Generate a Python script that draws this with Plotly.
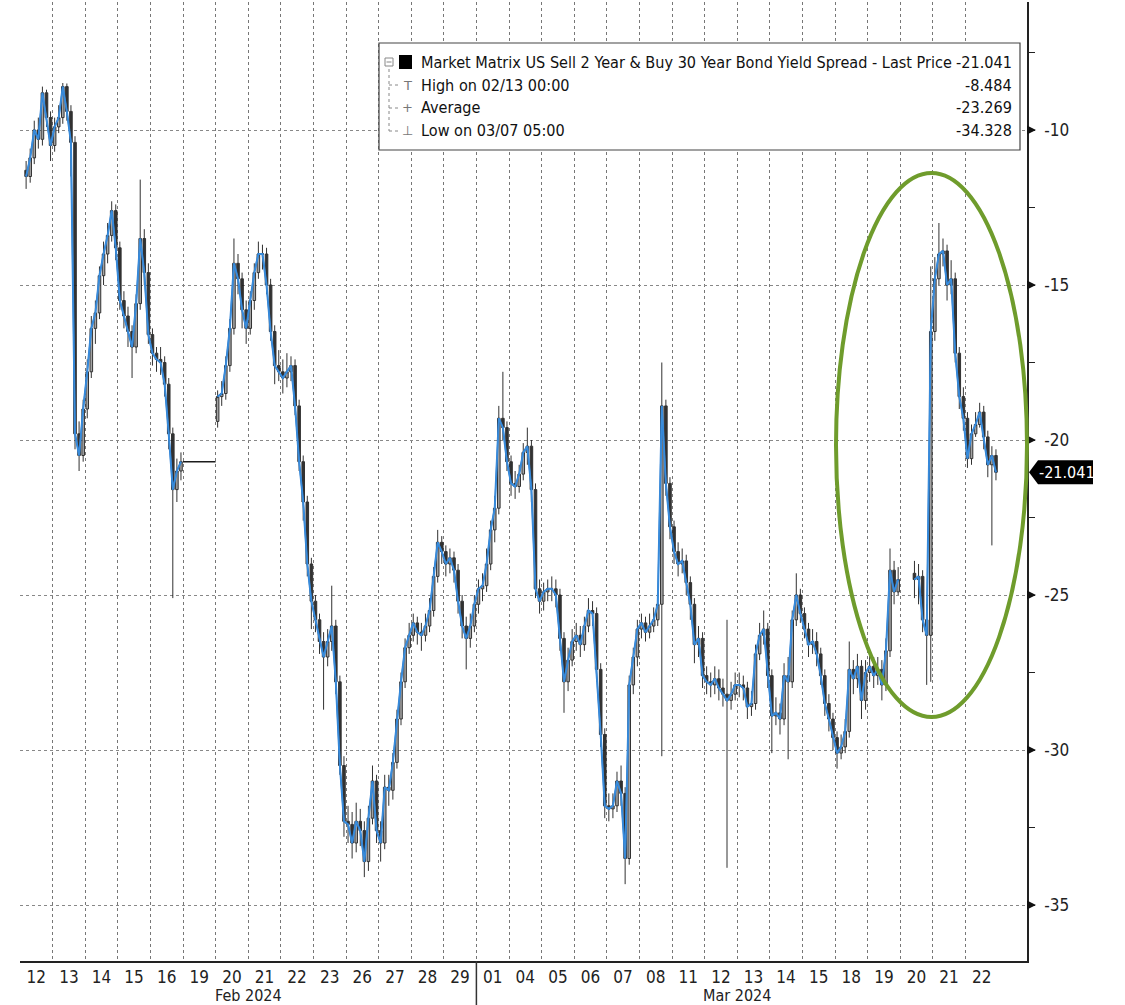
import plotly.graph_objects as go

# ---------------- data ----------------
day_labels = ["12", "13", "14", "15", "16", "19", "20", "21", "22", "23", "26", "27", "28", "29",
              "01", "04", "05", "06", "07", "08", "11", "12", "13", "14", "15", "18", "19", "20", "21", "22"]
month_labels = ["Feb 2024", "Mar 2024"]
month_first_day = [0, 14]          # index of first trading day of each month

BARS_PER_DAY = 8

# intraday closes, 8 bars per trading day (None = no trading)
closes = [
    [None, -11.5, -10.9, -10.0, -10.3, -8.8, -9.6, -10.5],       # Feb 12
    [-9.9, -9.6, -8.6, -9.4, -10.4, -19.8, -20.5, -19.0],         # Feb 13
    [-17.8, -16.4, -15.9, -14.7, -14.0, -13.4, -12.6, -13.8],     # Feb 14
    [-15.5, -16.0, -16.5, -17.0, -15.6, -13.5, -14.6, -16.6],     # Feb 15
    [-17.2, -17.4, -17.5, -18.2, -19.8, -21.6, -21.0, -20.7],     # Feb 16
    [None] * 8,                                                   # Feb 19 (holiday)
    [-18.6, -18.5, -17.6, -16.4, -14.3, -14.8, -15.8, -16.4],     # Feb 20
    [-15.5, -14.6, -14.0, -14.0, -15.0, -16.5, -17.6, -17.8],     # Feb 21
    [-18.0, -17.8, -17.6, -18.9, -20.7, -22.0, -24.0, -25.2],     # Feb 22
    [-25.8, -26.5, -27.0, -26.5, -26.0, -27.8, -30.5, -32.3],     # Feb 23
    [-32.4, -33.0, -32.3, -32.6, -33.6, -32.2, -31.0, -32.6],     # Feb 26
    [-33.0, -31.2, -31.3, -30.4, -29.0, -27.8, -26.7, -26.3],     # Feb 27
    [-25.9, -26.2, -26.3, -26.0, -25.5, -24.4, -23.3, -23.6],     # Feb 28
    [-24.0, -23.8, -24.2, -25.2, -26.0, -26.4, -26.0, -25.3],     # Feb 29
    [-24.8, -24.7, -24.0, -22.9, -22.2, -19.3, -19.6, -20.7],     # Mar 01
    [-21.4, -21.5, -21.1, -20.4, -20.2, -21.6, -24.8, -25.2],     # Mar 04
    [-24.9, -24.8, -24.8, -25.0, -26.4, -27.8, -27.1, -26.5],     # Mar 05
    [-26.3, -26.6, -26.0, -25.5, -25.6, -27.4, -29.5, -31.8],     # Mar 06
    [-31.9, -31.8, -31.0, -31.4, -33.5, -27.9, -27.0, -26.1],     # Mar 07
    [-25.9, -26.2, -26.0, -25.8, -25.3, -18.9, -21.4, -22.8],     # Mar 08
    [-23.6, -24.0, -23.9, -24.6, -25.3, -26.6, -26.4, -27.6],     # Mar 11
    [-27.8, -27.9, -27.7, -28.0, -28.2, -28.4, -28.2, -27.9],     # Mar 12
    [-27.9, -28.0, -28.6, -28.5, -26.9, -26.3, -26.1, -27.6],     # Mar 13
    [-28.9, -28.8, -29.0, -27.6, -27.8, -25.8, -25.0, -25.6],     # Mar 14
    [-26.1, -26.6, -26.5, -26.9, -27.6, -28.5, -29.0, -29.6],     # Mar 15
    [-30.1, -29.9, -29.4, -27.4, -27.7, -27.3, -28.4, -27.5],     # Mar 18
    [-27.3, -27.6, -27.4, -27.9, -26.8, -24.2, -24.9, -24.5],     # Mar 19
    [None, None, None, -24.5, -24.4, -25.8, -26.3, -16.5],        # Mar 20
    [-14.8, -14.0, -13.9, -15.0, -14.8, -17.2, -18.6, -19.3],     # Mar 21
    [-20.6, -19.8, -19.5, -19.1, -19.9, -20.8, -20.5, -21.041],   # Mar 22
]

highs = [
    [None, -11.0, -10.6, -9.7, -9.6, -8.6, -8.7, -9.4],
    [-9.6, -9.2, -8.484, -8.5, -9.2, -10.2, -19.4, -18.7],
    [-17.4, -16.0, -15.5, -14.4, -13.6, -13.0, -12.3, -12.4],
    [-13.6, -15.2, -15.7, -16.3, -15.3, -11.6, -13.2, -14.3],
    [-16.4, -17.0, -17.0, -17.3, -18.0, -19.6, -20.6, -20.4],
    [None] * 8,
    [-18.4, -18.1, -17.3, -16.1, -13.5, -14.0, -14.6, -15.5],
    [-15.2, -14.3, -13.6, -13.7, -13.8, -14.8, -16.3, -17.1],
    [-17.4, -17.2, -17.3, -17.4, -18.7, -20.5, -21.8, -23.8],
    [-25.0, -25.6, -26.2, -26.1, -24.7, -25.8, -27.6, -30.2],
    [-31.8, -32.0, -31.7, -31.9, -32.3, -31.8, -30.5, -30.8],
    [-32.3, -30.8, -30.8, -30.1, -28.7, -27.5, -26.4, -25.9],
    [-25.6, -25.7, -25.9, -25.6, -25.1, -24.1, -22.9, -23.1],
    [-23.4, -23.5, -23.6, -24.0, -25.0, -25.7, -25.6, -25.0],
    [-24.5, -24.3, -23.5, -22.6, -21.8, -18.9, -17.8, -19.4],
    [-20.5, -21.0, -20.8, -20.1, -19.6, -20.0, -21.4, -24.5],
    [-24.6, -24.5, -24.4, -24.5, -24.8, -26.2, -26.7, -26.1],
    [-25.9, -26.0, -25.7, -25.1, -25.2, -25.4, -27.2, -29.3],
    [-31.4, -31.4, -30.7, -30.5, -31.2, -27.6, -26.7, -25.8],
    [-25.6, -25.7, -25.6, -25.4, -24.9, -17.5, -18.7, -21.2],
    [-22.6, -23.3, -23.5, -23.7, -24.4, -25.1, -26.0, -26.2],
    [-27.3, -27.5, -27.3, -27.4, -27.7, -25.8, -27.8, -27.5],
    [-27.5, -27.6, -27.8, -28.1, -26.6, -25.9, -25.5, -25.9],
    [-27.4, -28.3, -28.5, -27.2, -27.0, -25.5, -24.3, -24.8],
    [-25.4, -25.9, -26.1, -26.2, -26.7, -27.4, -28.2, -28.8],
    [-29.4, -29.5, -29.0, -26.5, -27.1, -26.9, -27.1, -27.1],
    [-26.9, -27.0, -27.0, -27.1, -26.4, -23.5, -23.9, -24.1],
    [None, None, None, -23.9, -24.0, -24.2, -25.3, -14.4],
    [-14.1, -13.0, -13.5, -13.7, -14.2, -14.6, -17.0, -18.3],
    [-19.1, -19.5, -19.1, -18.8, -18.9, -19.7, -20.2, -20.3],
]

lows = [
    [None, -11.9, -11.7, -11.1, -10.6, -10.5, -9.9, -11.0],
    [-10.7, -10.1, -9.8, -9.7, -11.5, -20.3, -21.0, -20.7],
    [-19.3, -18.0, -16.9, -16.1, -15.0, -14.3, -13.6, -14.2],
    [-15.8, -16.4, -17.0, -18.0, -17.2, -15.8, -15.0, -16.9],
    [-17.6, -17.8, -17.9, -18.6, -20.3, -25.1, -22.0, -21.3],
    [None] * 8,
    [-19.6, -18.9, -18.7, -17.8, -16.6, -15.3, -16.4, -16.9],
    [-16.6, -15.8, -14.8, -14.5, -15.3, -16.8, -18.2, -18.1],
    [-18.5, -18.3, -18.1, -19.2, -21.0, -22.6, -24.4, -26.1],
    [-26.2, -26.9, -28.7, -27.3, -26.8, -28.2, -30.8, -32.8],
    [-33.0, -33.5, -33.3, -33.1, -34.1, -33.9, -32.4, -33.0],
    [-33.6, -33.2, -31.8, -31.6, -30.6, -29.2, -28.0, -26.9],
    [-26.5, -26.6, -26.8, -26.5, -26.2, -25.7, -24.6, -24.0],
    [-24.4, -24.3, -24.6, -25.6, -26.4, -27.4, -26.7, -26.2],
    [-25.6, -25.2, -24.9, -24.2, -23.3, -22.4, -20.0, -21.0],
    [-21.8, -21.9, -21.7, -21.3, -20.8, -22.0, -25.1, -25.6],
    [-25.5, -25.2, -25.2, -25.4, -26.8, -28.8, -28.1, -27.3],
    [-26.8, -27.0, -26.8, -26.2, -26.0, -27.8, -29.9, -32.2],
    [-32.3, -32.2, -32.0, -31.8, -34.328, -33.7, -28.2, -27.3],
    [-26.4, -26.5, -26.4, -26.2, -26.0, -30.2, -21.8, -23.2],
    [-24.0, -24.4, -24.3, -25.0, -25.8, -27.2, -27.0, -28.0],
    [-28.2, -28.3, -28.2, -28.4, -28.6, -33.8, -28.7, -28.4],
    [-28.3, -28.4, -29.0, -28.9, -28.7, -27.1, -26.6, -28.0],
    [-30.1, -29.2, -29.5, -29.2, -30.3, -28.0, -26.0, -25.9],
    [-26.4, -27.0, -26.9, -27.3, -27.9, -28.9, -29.4, -30.0],
    [-30.6, -30.3, -30.1, -29.6, -28.2, -28.0, -29.0, -28.7],
    [-27.8, -28.0, -27.9, -28.4, -28.1, -27.0, -25.3, -25.0],
    [None, None, None, -25.1, -25.3, -26.2, -27.9, -27.8],
    [-16.8, -15.0, -14.4, -15.5, -15.3, -17.5, -19.0, -19.7],
    [-20.9, -20.8, -19.9, -19.6, -20.3, -21.2, -23.4, -21.3],
]

# opening level of the first bar after a break in trading
session_opens = {0: -11.3, 6: -19.4, 27: -24.3}
holiday_day = 5
holiday_level = -20.7

legend_title = "Market Matrix US Sell 2 Year & Buy 30 Year Bond Yield Spread - Last Price"
stat_names = ["High on 02/13 00:00", "Average", "Low on 03/07 05:00"]
stat_values = ["-8.484", "-23.269", "-34.328"]

y_ticks = [-10, -15, -20, -25, -30, -35]

# ---------------- build series ----------------
xs, o, h, l, c = [], [], [], [], []
prev = None
for i, day in enumerate(closes):
    for k in range(BARS_PER_DAY):
        xv = i + (k + 0.5) / BARS_PER_DAY
        cv = day[k]
        xs.append(xv)
        if cv is None:
            o.append(None); h.append(None); l.append(None); c.append(None)
            prev = None
            continue
        ov = prev if prev is not None else session_opens[i]
        o.append(ov); h.append(highs[i][k]); l.append(lows[i][k]); c.append(cv)
        prev = cv

last_close = closes[-1][-1]
n_days = len(day_labels)

# ---------------- geometry helpers (page pixels -> paper) ----------------
W, H = 1125, 1005
PL, PR, PT, PB = 20, 1027, 2, 961
DAY_PX = 32.6


def px(x):
    return (x - PL) / (PR - PL)


def py(y):
    return (PB - y) / (PB - PT)


VAL_PER_PX = 1 / 31.0
y_top = -10 + (130 - PT) * VAL_PER_PX
y_bot = -10 - (PB - 130) * VAL_PER_PX
x_max = (PR - PL) / DAY_PX

FONT = "DejaVu Sans Condensed, DejaVu Sans, sans-serif"

fig = go.Figure()

fig.add_trace(go.Scatter(
    x=xs, y=c, mode="lines", line=dict(color="#2f7fd3", width=2),
    connectgaps=False, hoverinfo="skip", showlegend=False,
))

fig.add_trace(go.Candlestick(
    x=xs, open=o, high=h, low=l, close=c,
    increasing=dict(line=dict(color="#1c1c1c", width=1), fillcolor="#9a9a9a"),
    decreasing=dict(line=dict(color="#1c1c1c", width=1), fillcolor="#1c1c1c"),
    whiskerwidth=0, hoverinfo="skip", showlegend=False, opacity=0.9,
))

fig.add_trace(go.Scatter(
    x=xs, y=c, mode="lines", line=dict(color="#3a8ddb", width=1.3),
    connectgaps=False, hoverinfo="skip", showlegend=False,
))

# holiday: flat black segment
fig.add_trace(go.Scatter(
    x=[holiday_day, holiday_day + 1], y=[holiday_level, holiday_level],
    mode="lines", line=dict(color="#1c1c1c", width=1.5),
    hoverinfo="skip", showlegend=False,
))

shapes = []
annotations = []

# y tick arrowheads
for v in y_ticks:
    shapes.append(dict(type="path", xref="paper", xsizemode="pixel", xanchor=1,
                       yref="y", ysizemode="pixel", yanchor=v,
                       path="M 0 -4.5 L 9 0 L 0 4.5 Z", fillcolor="#111", line=dict(width=0)))

# last price tag
shapes.append(dict(type="path", xref="paper", xsizemode="pixel", xanchor=1,
                   yref="y", ysizemode="pixel", yanchor=last_close,
                   path="M 2 0 L 11 12 L 66 12 L 66 -12 L 11 -12 Z",
                   fillcolor="#000", line=dict(width=0)))
annotations.append(dict(x=1, xref="paper", xanchor="left", xshift=10,
                        y=last_close, yref="y", yanchor="middle",
                        text=f"{last_close:.3f}", showarrow=False,
                        font=dict(family=FONT, size=16, color="white")))

# month separator and month labels
shapes.append(dict(type="line", xref="x", x0=month_first_day[1], x1=month_first_day[1],
                   yref="paper", y0=0, y1=py(H), line=dict(color="#333", width=1.5)))
month_bounds = month_first_day + [n_days]
for m, name in enumerate(month_labels):
    annotations.append(dict(x=(month_bounds[m] + month_bounds[m + 1]) / 2, xref="x",
                            y=py(995), yref="paper", yanchor="middle",
                            text=name, showarrow=False,
                            font=dict(family=FONT, size=16, color="#222")))

# green ellipse highlight
shapes.append(dict(type="circle", xref="paper", yref="paper",
                   x0=px(836), x1=px(1027), y0=py(717), y1=py(173),
                   line=dict(color="#6f9c2c", width=4)))

# legend box
shapes.append(dict(type="rect", xref="paper", yref="paper",
                   x0=px(379), x1=px(1020), y0=py(150), y1=py(43),
                   fillcolor="white", line=dict(color="#444", width=1.2), layer="above"))
shapes.append(dict(type="rect", xref="paper", yref="paper",
                   x0=px(399), x1=px(412), y0=py(69), y1=py(55),
                   fillcolor="#000", line=dict(width=0), layer="above"))
# tree connectors
shapes.append(dict(type="line", xref="paper", yref="paper",
                   x0=px(389), x1=px(389), y0=py(69), y1=py(131),
                   line=dict(color="#888", width=1, dash="dot"), layer="above"))
for yy in [85, 108, 131]:
    shapes.append(dict(type="line", xref="paper", yref="paper",
                       x0=px(389), x1=px(398), y0=py(yy), y1=py(yy),
                       line=dict(color="#888", width=1, dash="dot"), layer="above"))
# collapse box icon
shapes.append(dict(type="rect", xref="paper", yref="paper",
                   x0=px(385), x1=px(393), y0=py(66), y1=py(58),
                   fillcolor="white", line=dict(color="#888", width=1), layer="above"))
shapes.append(dict(type="line", xref="paper", yref="paper",
                   x0=px(386.5), x1=px(391.5), y0=py(62), y1=py(62),
                   line=dict(color="#888", width=1), layer="above"))

row_y = [62, 85, 108, 131]
glyphs = ["", "T", "+", "⊥"]
names = [legend_title] + stat_names
values = [f"{last_close:.3f}"] + stat_values
for r in range(4):
    annotations.append(dict(x=px(419), y=py(row_y[r]), xref="paper", yref="paper",
                            xanchor="left", yanchor="middle", text=names[r], showarrow=False,
                            font=dict(family=FONT, size=16.1, color="#111")))
    annotations.append(dict(x=px(1014), y=py(row_y[r]), xref="paper", yref="paper",
                            xanchor="right", yanchor="middle", text=values[r], showarrow=False,
                            font=dict(family=FONT, size=16.1, color="#111")))
    if glyphs[r]:
        annotations.append(dict(x=px(407), y=py(row_y[r]), xref="paper", yref="paper",
                                xanchor="center", yanchor="middle", text=glyphs[r], showarrow=False,
                                font=dict(family="DejaVu Sans", size=13, color="#777")))

fig.update_layout(
    width=W, height=H,
    margin=dict(l=PL, r=W - PR, t=PT, b=H - PB, pad=0),
    paper_bgcolor="white", plot_bgcolor="white",
    showlegend=False, boxgap=0.1,
    shapes=shapes, annotations=annotations,
    font=dict(family=FONT, size=16, color="#222"),
    xaxis=dict(
        range=[0, x_max], rangeslider=dict(visible=False),
        tickmode="array", tickvals=[i + 0.5 for i in range(n_days)], ticktext=day_labels,
        ticks="", showgrid=False, zeroline=False,
        showline=True, linecolor="#222", linewidth=1.5,
        tickfont=dict(family=FONT, size=17, color="#222"),
        ticklabelstandoff=0,
        minor=dict(tickmode="array", tickvals=list(range(n_days)), showgrid=True,
                   gridcolor="#777", griddash="dot", gridwidth=1, ticks=""),
    ),
    yaxis=dict(
        side="right", range=[y_bot, y_top],
        tickmode="array", tickvals=y_ticks, ticktext=[str(v) for v in y_ticks],
        ticks="", showgrid=True, gridcolor="#888", griddash="dot", gridwidth=1,
        zeroline=False, showline=True, linecolor="#222", linewidth=1.5,
        tickfont=dict(family=FONT, size=17, color="#222"),
        ticklabelstandoff=12,
        minor=dict(tickmode="linear", tick0=-10, dtick=2.5, ticks="outside",
                   ticklen=6, tickcolor="#222", tickwidth=1, showgrid=False),
    ),
)

fig.write_html("out.html", config={"displayModeBar": False},
               post_script="document.body.style.margin='0';")
